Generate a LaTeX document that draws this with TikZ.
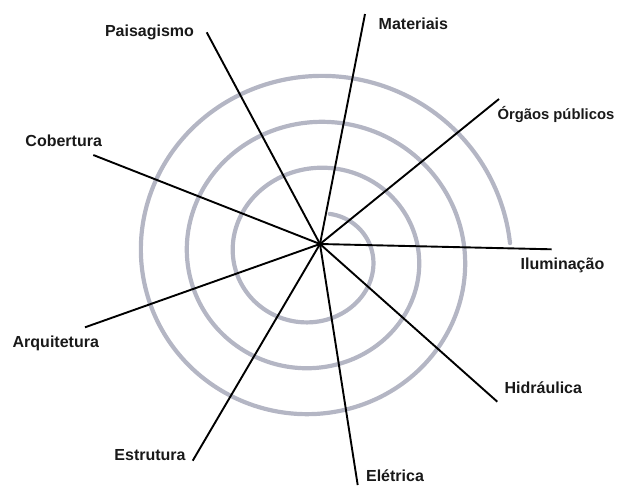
\documentclass[tikz,border=0pt]{standalone}
\usepackage{fontspec}
\setmainfont{Liberation Sans}
\definecolor{spiralgray}{HTML}{B4B6C4}
\tikzset{
  spiral/.style={draw=spiralgray, line width=4.2pt, line cap=round},
  ray/.style={draw=black, line width=1.9pt},
  lbl/.style={font=\fontsize{16}{19}\selectfont\bfseries, anchor=base, inner sep=0pt, text=black!90},
  lblsmall/.style={lbl, font=\fontsize{14.8}{18}\selectfont\bfseries}
}
\begin{document}
\begin{tikzpicture}[x=1pt, y=-1pt]
\useasboundingbox (0,0) rectangle (617,485);
% spiral
\draw[spiral] plot[domain=18:1166, samples=500, smooth, variable=\t]
  ({314.5 + (47+0.127778*\t)*sin(\t)}, {256.5 - (42.5+0.127778*\t)*cos(\t)});
% centre and ray ends
\coordinate (c) at (320,244);
\coordinate (ePai) at (206.7,32.3);
\coordinate (eMat) at (365,14);
\coordinate (eOrg) at (499,99);
\coordinate (eCob) at (93.3,155);
\coordinate (eIlu) at (551.7,249.3);
\coordinate (eArq) at (85,327.3);
\coordinate (eHid) at (497.3,401.7);
\coordinate (eEst) at (192.7,460.7);
\coordinate (eEle) at (357.7,485);
\foreach \e in {ePai,eMat,eOrg,eCob,eIlu,eArq,eHid,eEst,eEle}
  \draw[ray] (c) -- (\e);
% labels
\node[lbl] (lPai) at (149.5,36) {Paisagismo};
\node[lbl] (lMat) at (413.4,29.3) {Materiais};
\node[lblsmall, anchor=base east] (lOrg) at (614.5,119.3) {Órgãos públicos};
\node[lbl] (lCob) at (63.7,146.7) {Cobertura};
\node[lbl] (lIlu) at (562.5,269.3) {Iluminação};
\node[lbl] (lArq) at (55.8,347.3) {Arquitetura};
\node[lbl] (lHid) at (543.3,393.3) {Hidráulica};
\node[lbl] (lEst) at (150,460.7) {Estrutura};
\node[lbl] (lEle) at (395,481.7) {Elétrica};
\end{tikzpicture}
\end{document}
